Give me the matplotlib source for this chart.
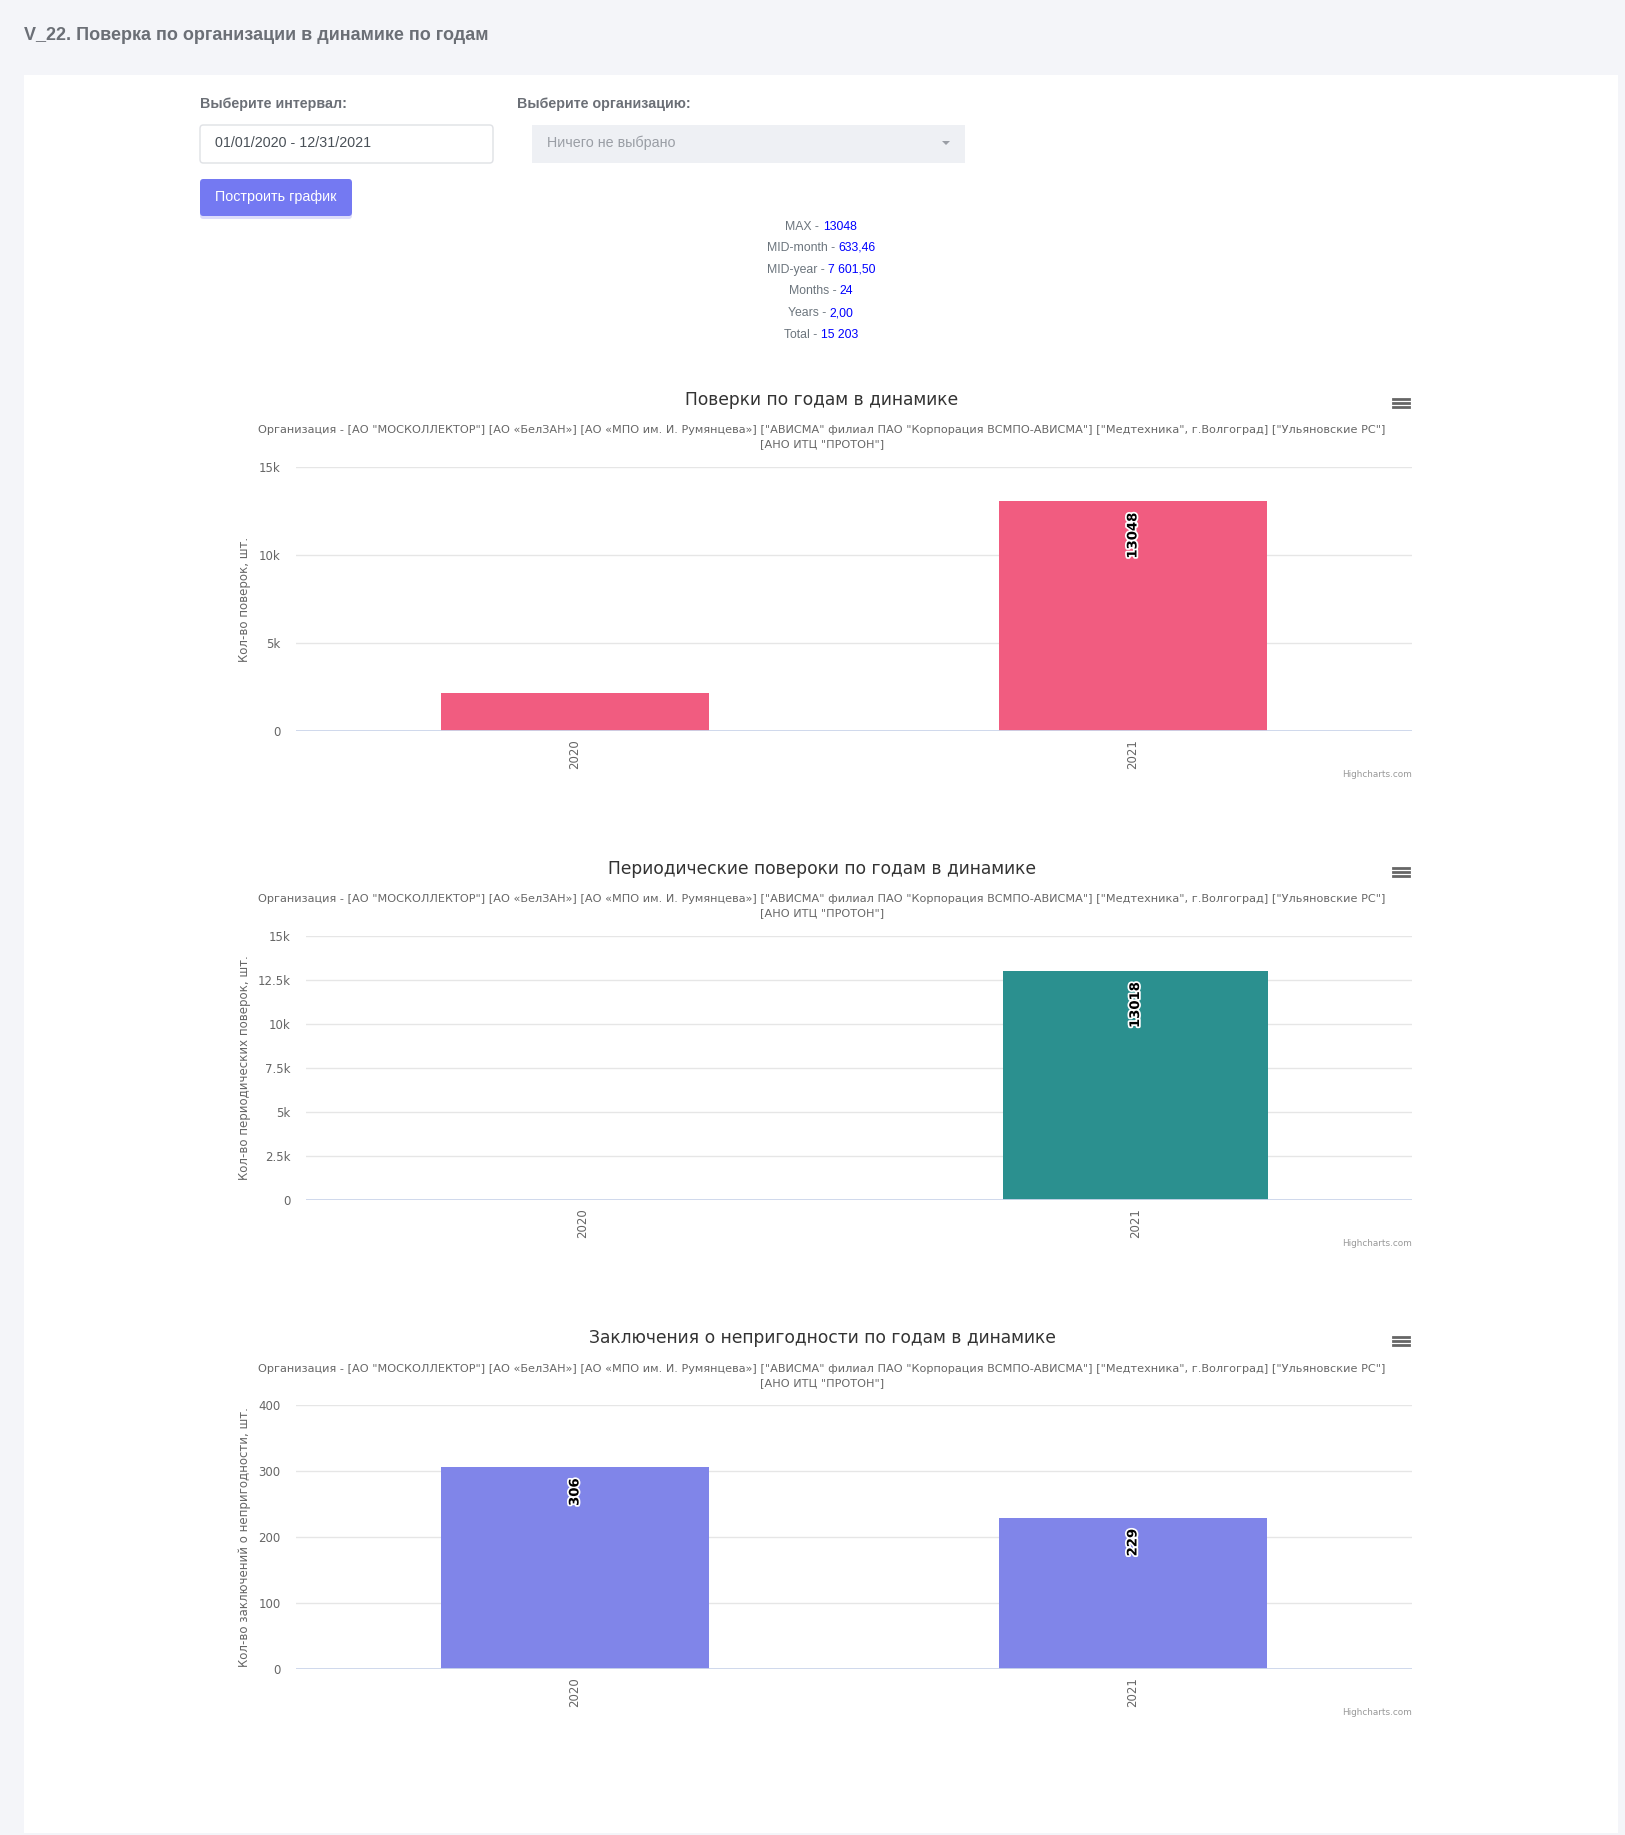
import matplotlib
matplotlib.use("Agg")
import matplotlib.pyplot as plt
from matplotlib.patches import Rectangle, FancyBboxPatch, Polygon
from matplotlib.lines import Line2D
from matplotlib.ticker import FuncFormatter
import matplotlib.patheffects as pe

W, H = 1625, 1835

# ---- data ----
years = ['2020', '2021']
verifications = [2155, 13048]
periodic = [0, 13018]
unfit = [306, 229]

stat_names = ['MAX', 'MID-month', 'MID-year', 'Months', 'Years', 'Total']
stat_values = ['13048', '633,46', '7 601,50', '24', '2,00', '15 203']

subtitle = ('Организация - [АО "МОСКОЛЛЕКТОР"] [АО «БелЗАН»] [АО «МПО им. И. Румянцева»] '
            '["АВИСМА" филиал ПАО "Корпорация ВСМПО-АВИСМА"] ["Медтехника", г.Волгоград] '
            '["Ульяновские РС"]\n[АНО ИТЦ "ПРОТОН"]')

charts = [
    dict(title='Поверки по годам в динамике', values=verifications, color='#f15c80',
         ylabel='Кол-во поверок, шт.', ticks=[0, 5000, 10000, 15000],
         box=(296, 467, 1412, 731), top=400, sub=432),
    dict(title='Периодические повероки по годам в динамике', values=periodic, color='#2b908f',
         ylabel='Кол-во периодических поверок, шт.',
         ticks=[0, 2500, 5000, 7500, 10000, 12500, 15000],
         box=(306, 936, 1412, 1200), top=869, sub=901),
    dict(title='Заключения о непригодности по годам в динамике', values=unfit, color='#8085e9',
         ylabel='Кол-во заключений о непригодности, шт.', ticks=[0, 100, 200, 300, 400],
         box=(296, 1405, 1412, 1669), top=1338, sub=1371),
]

fig = plt.figure(figsize=(W / 100, H / 100), dpi=100, facecolor='#f4f5f9')


def fx(x):
    return x / W


def fy(y):
    return 1 - y / H


def kfmt(v, pos):
    if v == 0:
        return '0'
    if v >= 1000:
        return '%gk' % (v / 1000)
    return '%d' % v


# card
fig.patches.append(Rectangle((fx(24), fy(1833)), fx(1618) - fx(24), fy(75) - fy(1833),
                             transform=fig.transFigure, facecolor='white', edgecolor='none', zorder=-5))

# page header
fig.text(fx(24), fy(36), 'V_22. Поверка по организации в динамике по годам', fontsize=13,
         fontweight='bold', color='#6b6f76', family='Liberation Sans', va='center')

# form
fig.text(fx(200), fy(104), 'Выберите интервал:', fontsize=10.3, fontweight='bold',
         color='#6b6f76', family='Liberation Sans', va='center')
fig.text(fx(517), fy(104), 'Выберите организацию:', fontsize=10.3, fontweight='bold',
         color='#6b6f76', family='Liberation Sans', va='center')
fig.patches.append(FancyBboxPatch((fx(200), fy(163)), fx(493) - fx(200), fy(125) - fy(163),
                                  boxstyle='round,pad=0,rounding_size=0.002', transform=fig.transFigure,
                                  facecolor='white', edgecolor='#dfe1e5', linewidth=1, zorder=-4))
fig.text(fx(215), fy(143), '01/01/2020 - 12/31/2021', fontsize=10.3, color='#495057',
         family='Liberation Sans', va='center')
fig.patches.append(Rectangle((fx(532), fy(163)), fx(965) - fx(532), fy(125) - fy(163),
                             transform=fig.transFigure, facecolor='#eef0f4', edgecolor='none', zorder=-4))
fig.text(fx(547), fy(143), 'Ничего не выбрано', fontsize=10.3, color='#9a9ea5',
         family='Liberation Sans', va='center')
fig.patches.append(Polygon([(fx(942), fy(141)), (fx(950), fy(141)), (fx(946), fy(145))],
                           closed=True, transform=fig.transFigure, facecolor='#9a9ea5', edgecolor='none'))
# button with a soft shadow
fig.patches.append(FancyBboxPatch((fx(200), fy(219)), fx(352) - fx(200), fy(181) - fy(219),
                                  boxstyle='round,pad=0,rounding_size=0.002', transform=fig.transFigure,
                                  facecolor='#dcdcfb', edgecolor='none', zorder=-4))
fig.patches.append(FancyBboxPatch((fx(200), fy(216)), fx(352) - fx(200), fy(179) - fy(216),
                                  boxstyle='round,pad=0,rounding_size=0.002', transform=fig.transFigure,
                                  facecolor='#7479f2', edgecolor='none', zorder=-3))
fig.text(fx(276), fy(197), 'Построить график', fontsize=10.3, color='white',
         family='Liberation Sans', ha='center', va='center')

# stats block (two colour lines, centred)
renderer = fig.canvas.get_renderer()
stat_y = [227, 248, 270, 291, 313, 335]
for name, val, y in zip(stat_names, stat_values, stat_y):
    t1 = fig.text(0, fy(y), name + ' - ', fontsize=8.8, color='#6c757d',
                  family='Liberation Sans', va='center')
    t2 = fig.text(0, fy(y), val, fontsize=8.8, color='#0000ff',
                  family='Liberation Sans', va='center')
    w1 = t1.get_window_extent(renderer).width
    w2 = t2.get_window_extent(renderer).width
    x0 = 821 - (w1 + w2) / 2
    t1.set_x(fx(x0))
    t2.set_x(fx(x0 + w1))

# charts
for c in charts:
    x0, y0, x1, y1 = c['box']
    ax = fig.add_axes([fx(x0), fy(y1), fx(x1) - fx(x0), fy(y0) - fy(y1)])
    ax.set_facecolor('none')
    ax.bar(range(len(years)), c['values'], width=0.48, color=c['color'], zorder=2)
    ax.set_xlim(-0.5, len(years) - 0.5)
    ax.set_ylim(0, c['ticks'][-1])
    ax.set_yticks(c['ticks'])
    ax.yaxis.set_major_formatter(FuncFormatter(kfmt))
    ax.set_xticks(range(len(years)))
    ax.set_xticklabels(years, rotation=90, family='DejaVu Sans')
    for s in ax.spines.values():
        s.set_visible(False)
    ax.tick_params(axis='both', length=0, labelsize=8.5, labelcolor='#666666')
    ax.tick_params(axis='y', pad=11)
    ax.tick_params(axis='x', pad=6)
    ax.grid(axis='y', color='#e6e6e6', linewidth=1, zorder=0)
    ax.axhline(0, color='#ccd6eb', linewidth=1.3, zorder=3)
    ax.set_ylabel(c['ylabel'], fontsize=8.5, color='#666666', family='DejaVu Sans')
    ax.yaxis.set_label_coords((251 - x0) / (x1 - x0), 0.5)
    for i, v in enumerate(c['values']):
        # labels that do not fit inside the column are hidden, as in the original
        if v > 0.2 * c['ticks'][-1]:
            ax.annotate(str(v), (i, v), xytext=(0, -8), textcoords='offset points',
                        rotation=90, ha='center', va='top', fontsize=9.5, fontweight='bold',
                        color='black', family='DejaVu Sans', zorder=4,
                        path_effects=[pe.withStroke(linewidth=2.5, foreground='white')])
    # title, subtitle, menu, credits
    fig.text(fx(822), fy(c['top']), c['title'], fontsize=12.3, color='#333333',
             family='DejaVu Sans', ha='center', va='center')
    fig.text(fx(822), fy(c['sub'] - 7), subtitle, fontsize=8.1, color='#666666',
             family='DejaVu Sans', ha='center', va='top', linespacing=1.5)
    for dy in (-4, 0, 4):
        fig.add_artist(Line2D([fx(1393), fx(1409)], [fy(c['top'] + 3 + dy)] * 2,
                              transform=fig.transFigure, color='#666666', linewidth=2))
    fig.text(fx(1412), fy(y1 + 43), 'Highcharts.com', fontsize=6.4, color='#999999',
             family='DejaVu Sans', ha='right', va='center')

fig.savefig('out.png', dpi=100, facecolor=fig.get_facecolor())
